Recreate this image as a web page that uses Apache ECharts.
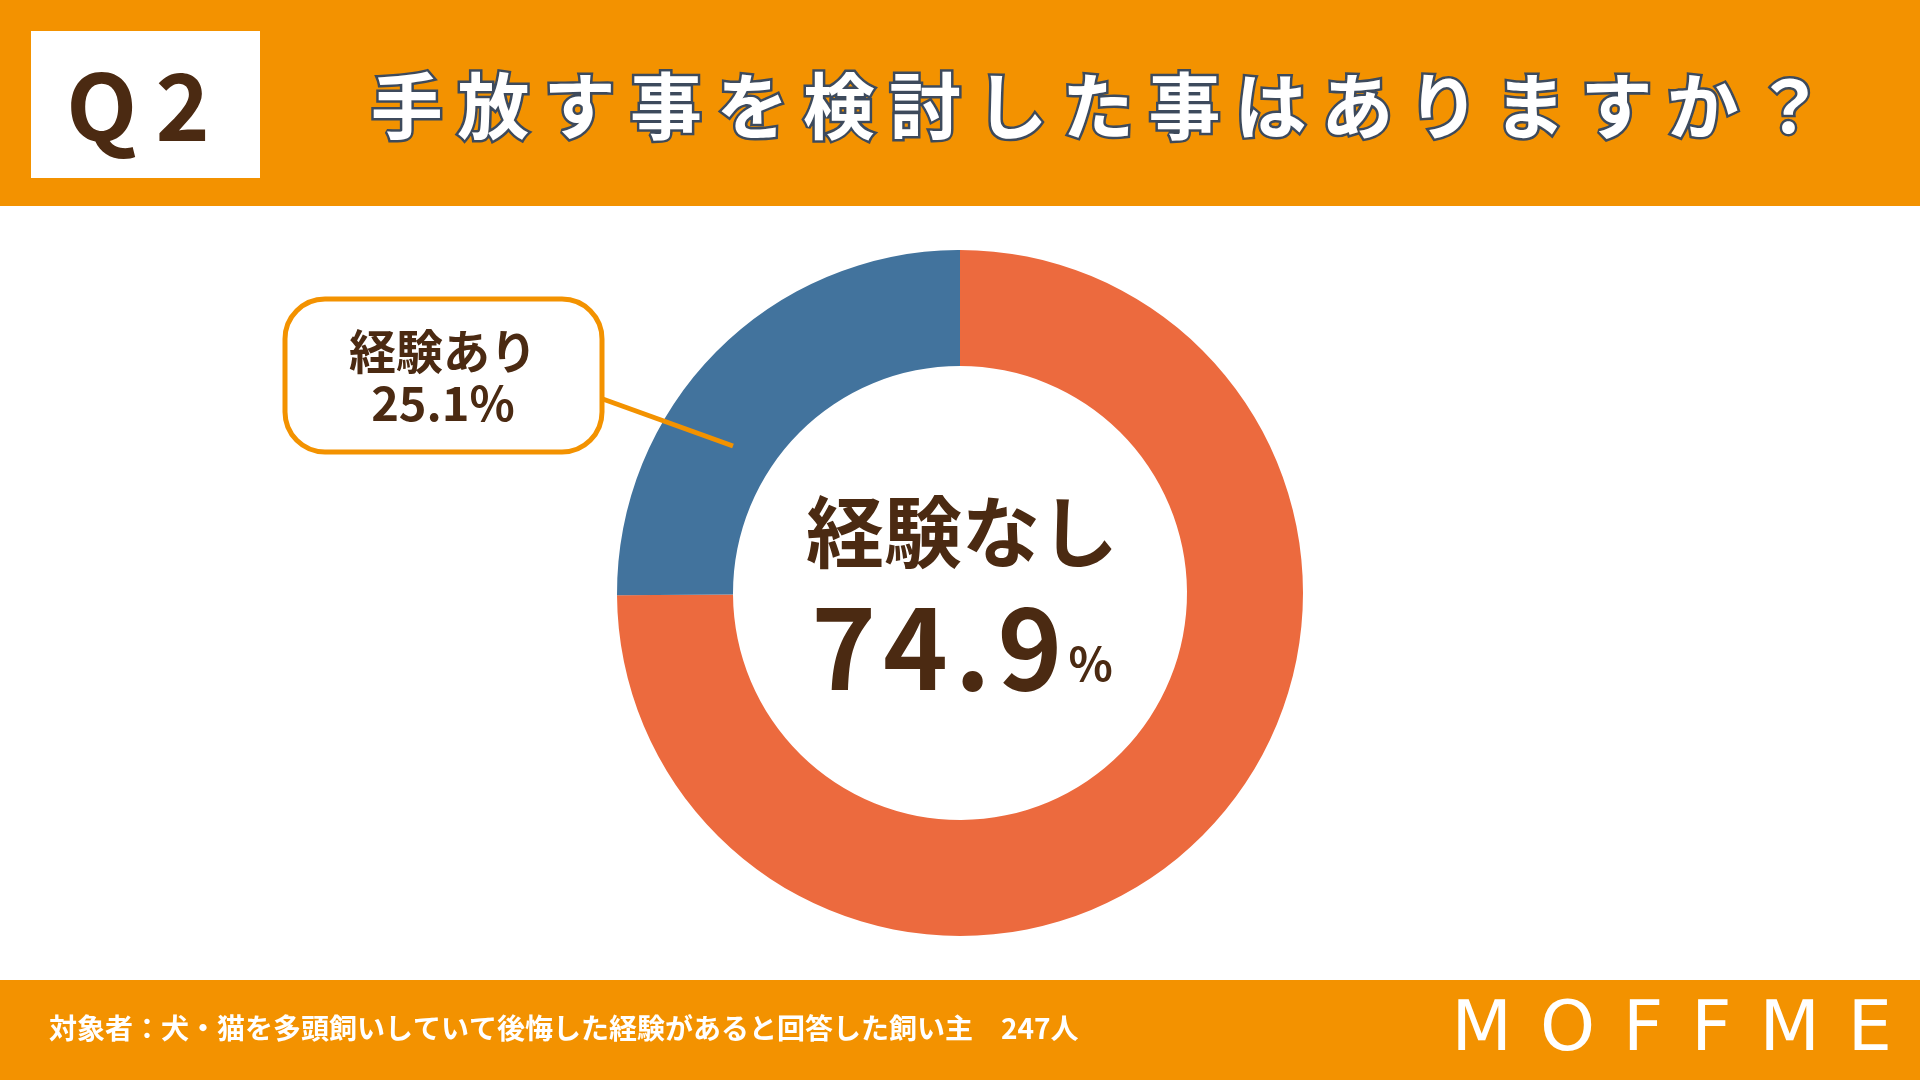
<!DOCTYPE html>
<html>
<head>
<meta charset="utf-8">
<script src="https://cdn.jsdelivr.net/npm/echarts@6/dist/echarts.min.js"></script>
<style>
html,body{margin:0;padding:0;background:#fff;}
#main{width:1920px;height:1080px;}
</style>
</head>
<body>
<div id="main"></div>
<script>
const categories = ['経験なし', '経験あり'];
const values = [74.9, 25.1];
const question = 'Q2';
const titleText = '手放す事を検討した事はありますか？';
const footText = '対象者：犬・猫を多頭飼いしていて後悔した経験があると回答した飼い主　247人';
const brand = 'MOFFME';

const FONT = '"Noto Sans CJK JP", "Noto Sans", sans-serif';
const ORANGE = '#f39200';
const BROWN = '#4b2a12';

// 字間を空ける（letterSpacing が効かないので空白を挟む）
const spread = (s, sp) => s.split('').join(sp);

const chart = echarts.init(document.getElementById('main'));
chart.setOption({
    backgroundColor: '#fff',
    color: ['#ec6a3e', '#42739d'],
    graphic: [
        // 上下の帯
        { type: 'rect', shape: { x: 0, y: 0, width: 1920, height: 206 }, style: { fill: ORANGE } },
        { type: 'rect', shape: { x: 31, y: 31, width: 229, height: 147 }, style: { fill: '#fff' } },
        { type: 'text', x: 138, y: 106, style: { text: spread(question, '\u2009'), font: 'bold 92px ' + FONT, fill: BROWN, align: 'center', verticalAlign: 'middle' } },
        { type: 'text', x: 1098, y: 106, style: { text: spread(titleText, '\u2009'), font: 'bold 72px ' + FONT, fill: '#fff', stroke: '#3d4a5c', lineWidth: 5, align: 'center', verticalAlign: 'middle' } },
        { type: 'rect', shape: { x: 0, y: 980, width: 1920, height: 100 }, style: { fill: ORANGE } },
        { type: 'text', x: 49, y: 1028, style: { text: footText, font: 'bold 28px ' + FONT, fill: '#fff', verticalAlign: 'middle' } },
        { type: 'text', x: 1892, y: 1032, style: { text: spread(brand, '\u2009\u2009'), font: '70px "DejaVu Sans", sans-serif', fill: '#fff', align: 'right', verticalAlign: 'middle' } },
        // 中央テキスト
        { type: 'text', x: 962, y: 532, style: { text: categories[0], font: 'bold 78px ' + FONT, fill: BROWN, align: 'center', verticalAlign: 'middle' } },
        {
            type: 'text', x: 962, y: 648,
            style: {
                text: '{n|' + spread(String(values[0]), '\u200A') + '}{p|%}', align: 'center', verticalAlign: 'middle',
                rich: {
                    n: { font: 'bold 110px ' + FONT, fill: BROWN },
                    p: { font: 'bold 46px ' + FONT, fill: BROWN, padding: [32, 0, 0, 6] }
                }
            }
        },
        // 吹き出し
        { type: 'line', z: 100, shape: { x1: 600, y1: 398, x2: 733, y2: 446 }, style: { stroke: ORANGE, lineWidth: 5 } },
        { type: 'rect', z: 100, shape: { x: 285, y: 299, width: 317, height: 153, r: 40 }, style: { fill: '#fff', stroke: ORANGE, lineWidth: 5 } },
        {
            type: 'text', z: 101, x: 443, y: 377,
            style: {
                text: categories[1] + '\n' + values[1] + '%', align: 'center', verticalAlign: 'middle',
                font: 'bold 47px ' + FONT, fill: BROWN, lineHeight: 52
            }
        }
    ],
    series: [{
        type: 'pie',
        center: [960, 593],
        radius: [227, 343],
        startAngle: 90,
        clockwise: true,
        silent: true,
        label: { show: false },
        labelLine: { show: false },
        data: categories.map((c, i) => ({ name: c, value: values[i] }))
    }]
});
</script>
</body>
</html>
